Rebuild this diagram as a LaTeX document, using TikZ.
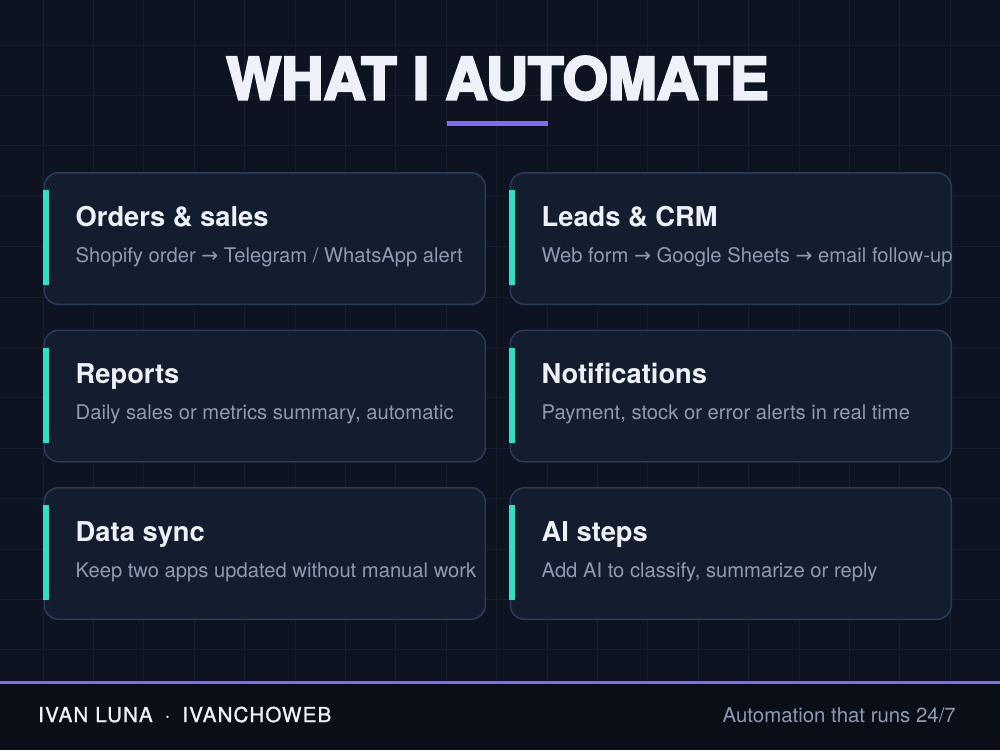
\documentclass[tikz,border=0pt]{standalone}
\usepackage{fontspec}
\setmainfont{TeX Gyre Heros}
\newfontfamily\headsemi{texgyreheros-bold.otf}
\newfontfamily\titlefont{texgyreheros-bold.otf}[FakeBold=4]
\newfontfamily\brandfont{TeX Gyre Heros}[LetterSpace=6,FakeBold=1.2]
\newfontfamily\arrowfont{DejaVu Sans}
\usetikzlibrary{calc}
\definecolor{bgdark}{HTML}{0D1320}
\definecolor{gridline}{HTML}{161D2C}
\definecolor{cardfill}{HTML}{141D30}
\definecolor{cardedge}{HTML}{2B3B58}
\definecolor{accent}{HTML}{2EE0C4}
\definecolor{violet}{HTML}{7F6EF0}
\definecolor{headtext}{HTML}{EEF2F8}
\definecolor{subtext}{HTML}{8D9BB2}
\definecolor{footbg}{HTML}{0A0E17}
\tikzset{
 card/.style={draw=cardedge,fill=cardfill,line width=1.5pt,rounded corners=14pt,
   minimum width=441pt,minimum height=131.5pt,anchor=north west,inner sep=0pt},
 bar/.style={fill=accent},
 cardtitle/.style={anchor=base west,inner sep=0pt,text=headtext,
   font=\headsemi\fontsize{27.3}{30}\selectfont},
 cardsub/.style={anchor=base west,inner sep=0pt,text=subtext,
   font=\fontsize{20.2}{24}\selectfont},
 foot/.style={inner sep=0pt,font=\brandfont\fontsize{20.5}{24}\selectfont}
}
\newcommand{\goesto}{{\arrowfont →}}

\begin{document}
\begin{tikzpicture}[x=1pt,y=-1pt]
\fill[bgdark] (0,0) rectangle (1000,750);
\useasboundingbox (0,0) rectangle (1000,750);
% background grid
\foreach \gx in {0,...,18}
  \draw[gridline,line width=1pt] ({43+50.4*\gx},0) -- ({43+50.4*\gx},682);
\foreach \gy in {0,...,12}
  \draw[gridline,line width=1pt] (0,{45+50.4*\gy}) -- (1000,{45+50.4*\gy});

\node[anchor=base,inner sep=0pt,text=headtext,font=\titlefont\fontsize{58.4}{60}\selectfont]
  (headline) at (497.5,99.5) {WHAT I AUTOMATE};
\fill[violet] ($(headline.base)+(-50.5,21.5)$) rectangle ++(101,5);

% cards
\node[card] (orders) at (43.5,172) {};
\node[card] (leads) at (509.5,172) {};
\node[card] (reports) at (43.5,329.5) {};
\node[card] (notify) at (509.5,329.5) {};
\node[card] (sync) at (43.5,487) {};
\node[card] (aisteps) at (509.5,487) {};

\fill[bar] ($(orders.north west)+(-0.5,18)$) rectangle ++(6,95);
\fill[bar] ($(leads.north west)+(-0.5,18)$) rectangle ++(6,95);
\fill[bar] ($(reports.north west)+(-0.5,18)$) rectangle ++(6,95);
\fill[bar] ($(notify.north west)+(-0.5,18)$) rectangle ++(6,95);
\fill[bar] ($(sync.north west)+(-0.5,18)$) rectangle ++(6,95);
\fill[bar] ($(aisteps.north west)+(-0.5,18)$) rectangle ++(6,95);

\node[cardtitle] (orders-t) at ($(orders.north west)+(32,54)$) {Orders \& sales};
\node[cardsub] (orders-s) at ($(orders.north west)+(32,90.3)$) {Shopify order \goesto{} Telegram / WhatsApp alert};
\node[cardtitle] (leads-t) at ($(leads.north west)+(32,54)$) {Leads \& CRM};
\node[cardsub] (leads-s) at ($(leads.north west)+(32,90.3)$) {Web form \goesto{} Google Sheets \goesto{} email follow-up};
\node[cardtitle] (reports-t) at ($(reports.north west)+(32,54)$) {Reports};
\node[cardsub] (reports-s) at ($(reports.north west)+(32,90.3)$) {Daily sales or metrics summary, automatic};
\node[cardtitle] (notify-t) at ($(notify.north west)+(32,54)$) {Notifications};
\node[cardsub] (notify-s) at ($(notify.north west)+(32,90.3)$) {Payment, stock or error alerts in real time};
\node[cardtitle] (sync-t) at ($(sync.north west)+(32,54)$) {Data sync};
\node[cardsub] (sync-s) at ($(sync.north west)+(32,90.3)$) {Keep two apps updated without manual work};
\node[cardtitle] (aisteps-t) at ($(aisteps.north west)+(32,54)$) {AI steps};
\node[cardsub] (aisteps-s) at ($(aisteps.north west)+(32,90.3)$) {Add AI to classify, summarize or reply};

% footer
\fill[footbg] (0,682) rectangle (1000,750);
\draw[violet,line width=3.5pt] (0,682.5) -- (1000,682.5);
\node[foot,anchor=base west,text=headtext] (brand) at (38,722)
  {IVAN LUNA\hspace{12pt}·\hspace{12pt}IVANCHOWEB};
\node[foot,anchor=base east,text=subtext,font=\fontsize{20.4}{24}\selectfont] (motto) at (956,722)
  {Automation that runs 24/7};
\end{tikzpicture}
\end{document}
